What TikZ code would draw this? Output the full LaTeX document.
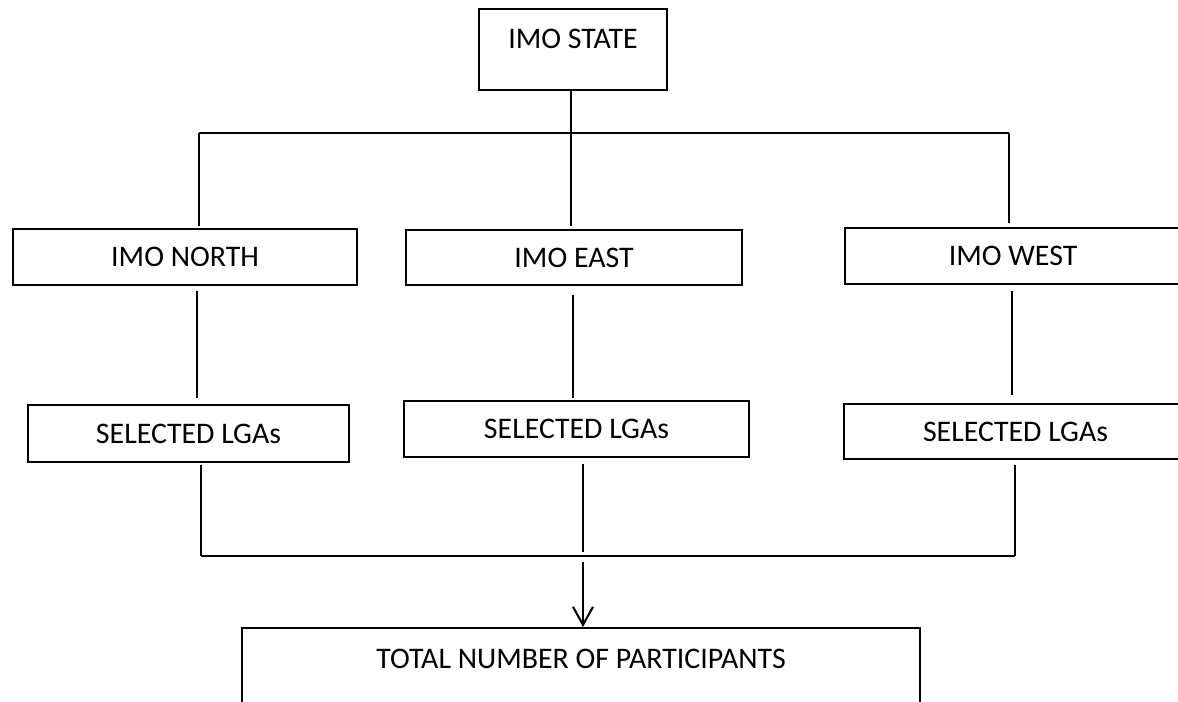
\documentclass[tikz,border=0pt]{standalone}
\usepackage{fontspec}
\setmainfont{Carlito}
\usetikzlibrary{arrows.meta}
\begin{document}
\begin{tikzpicture}[x=0.02cm,y=-0.02cm,
  box/.style={draw, line width=1.2pt, rectangle, inner sep=0pt, anchor=north west,
    font=\fontsize{17}{20}\selectfont},
  conn/.style={draw, line width=1.2pt},
  arr/.style={conn, -{Straight Barb[length=0.36cm,width=0.4cm,line width=1.2pt]}}]
\useasboundingbox (0,0) rectangle (1178,702);
\clip (0,0) rectangle (1178,702);
% boxes
\node[box, minimum width=188*0.02cm, text height=0.78cm, text depth=0.84cm] (state) at (478,8) {IMO STATE};
\node[box, minimum width=344*0.02cm, minimum height=56*0.02cm] (north) at (12,228) {IMO NORTH};
\node[box, minimum width=336*0.02cm, minimum height=55*0.02cm] (east) at (405,229) {IMO EAST};
\node[box, minimum width=336*0.02cm, minimum height=56*0.02cm] (west) at (844,227) {IMO WEST};
\node[box, minimum width=321*0.02cm, minimum height=57*0.02cm] (seln) at (27,404) {SELECTED LGAs};
\node[box, minimum width=345*0.02cm, minimum height=56*0.02cm] (sele) at (403,400) {SELECTED LGAs};
\node[box, minimum width=343*0.02cm, minimum height=55*0.02cm] (selw) at (843,403) {SELECTED LGAs};
\node[box, minimum width=678*0.02cm, text height=0.80cm, text depth=2.0cm] (total) at (241,627) {TOTAL NUMBER OF PARTICIPANTS};
% branch coordinates
\coordinate (bl) at (199,133);
\coordinate (bm) at (571,133);
\coordinate (br) at (1009,133);
\coordinate (xa) at (197,0);
\coordinate (xb) at (573,0);
\coordinate (xc) at (1012,0);
\coordinate (cl) at (201,556);
\coordinate (cm) at (583,556);
\coordinate (cr) at (1015,556);
% top branching
\draw[conn] (bl) -- (br);
\draw[conn, shorten >=0.06cm] (bm |- state.south) -- (bm |- east.north);
\draw[conn, shorten >=0.04cm] (bl) -- (bl |- north.north);
\draw[conn, shorten >=0.08cm] (br) -- (br |- west.north);
% stems between region and LGA boxes
\draw[conn, shorten <=0.1cm, shorten >=0.12cm] (xa |- north.south) -- (xa |- seln.north);
\draw[conn, shorten <=0.18cm, shorten >=0.04cm] (xb |- east.south) -- (xb |- sele.north);
\draw[conn, shorten <=0.12cm, shorten >=0.16cm] (xc |- west.south) -- (xc |- selw.north);
% lower collection
\draw[conn, shorten <=0.04cm] (cl |- seln.south) -- (cl);
\draw[conn, shorten <=0.12cm, shorten >=0.08cm] (cm |- sele.south) -- (cm);
\draw[conn, shorten <=0.1cm] (cr |- selw.south) -- (cr);
\draw[conn] (cl) -- (cr);
\draw[arr, shorten <=0.12cm] (cm) -- (cm |- total.north);
\end{tikzpicture}
\end{document}
